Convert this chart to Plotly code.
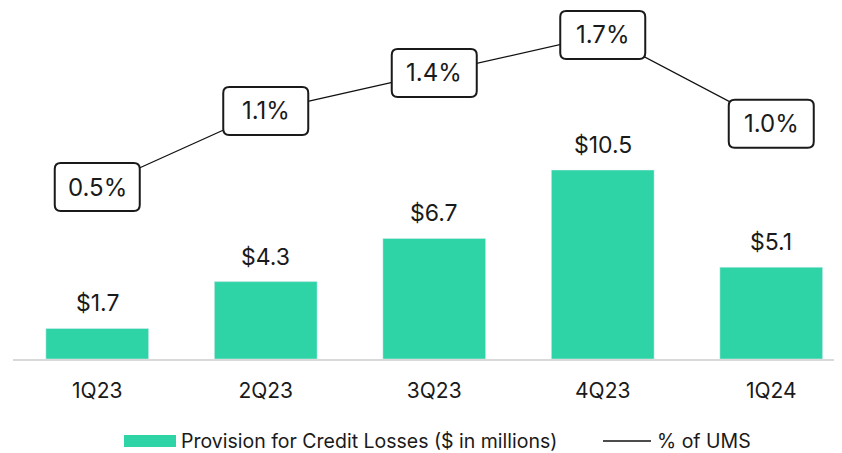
import plotly.graph_objects as go

categories = ["1Q23", "2Q23", "3Q23", "4Q23", "1Q24"]
provision = [1.7, 4.3, 6.7, 10.5, 5.1]
ums_pct = [0.5, 1.1, 1.4, 1.7, 1.0]
bar_labels = ["$1.7", "$4.3", "$6.7", "$10.5", "$5.1"]
pct_labels = ["0.5%", "1.1%", "1.4%", "1.7%", "1.0%"]

OFF = 8  # page body margin
W, H = 842 - OFF, 453 - OFF
ML, MR, MT, MB = 13 - OFF, 0, 0, 94
PW, PH = W - ML - MR, H - MT - MB

GREEN = "#2ED4A6"
FONT = "Inter"
TXT = "#1a1a1a"
xs = list(range(len(categories)))

def px_x(px):
    return (px - OFF - ML) / PW

def px_y(py):
    return (H - MB - (py - OFF)) / PH

bar_ppu = 18.0
pct_ppu = 126.7
y0_px = 187 - OFF  # pixel of 0.5% within plot (top=0)

fig = go.Figure()
fig.add_trace(go.Bar(x=xs, y=provision, marker_color=GREEN, width=0.61,
                     name="Provision for Credit Losses ($ in millions)", showlegend=False))
fig.add_trace(go.Scatter(x=xs, y=ums_pct, yaxis="y2", mode="lines",
                         line=dict(color="#111111", width=1.3), name="% of UMS", showlegend=False))

shapes = []
annotations = []
hw, hh, r = 42.5, 24, 6
path = (f"M {-hw+r},{-hh} L {hw-r},{-hh} Q {hw},{-hh} {hw},{-hh+r} L {hw},{hh-r} "
        f"Q {hw},{hh} {hw-r},{hh} L {-hw+r},{hh} Q {-hw},{hh} {-hw},{hh-r} "
        f"L {-hw},{-hh+r} Q {-hw},{-hh} {-hw+r},{-hh} Z")
for x, v, t in zip(xs, ums_pct, pct_labels):
    shapes.append(dict(type="path", xref="x", yref="y2", xsizemode="pixel", ysizemode="pixel",
                       xanchor=x, yanchor=v, path=path, fillcolor="white",
                       line=dict(color=TXT, width=2), layer="above"))
    annotations.append(dict(x=x, y=v, xref="x", yref="y2", text=t, showarrow=False,
                            font=dict(family=FONT, size=24, color=TXT),
                            xanchor="center", yanchor="middle"))

for x, v, t in zip(xs, provision, bar_labels):
    annotations.append(dict(x=x, y=v, xref="x", yref="y", text=t, showarrow=False,
                            font=dict(family=FONT, size=23, color=TXT),
                            xanchor="center", yanchor="bottom", yshift=9))

# custom legend
LEG_Y = 441
shapes.append(dict(type="rect", xref="paper", yref="paper",
                   x0=px_x(124), x1=px_x(176), y0=px_y(LEG_Y + 6), y1=px_y(LEG_Y - 6),
                   fillcolor=GREEN, line=dict(width=0)))
annotations.append(dict(x=px_x(180), y=px_y(LEG_Y), xref="paper", yref="paper",
                        text="Provision for Credit Losses ($ in millions)", showarrow=False,
                        xanchor="left", yanchor="middle", borderpad=0,
                        font=dict(family=FONT, size=19.5, color=TXT)))
shapes.append(dict(type="line", xref="paper", yref="paper",
                   x0=px_x(603), x1=px_x(651), y0=px_y(LEG_Y), y1=px_y(LEG_Y),
                   line=dict(color="#111111", width=1.3)))
annotations.append(dict(x=px_x(656), y=px_y(LEG_Y), xref="paper", yref="paper",
                        text="% of UMS", showarrow=False, xanchor="left", yanchor="middle",
                        borderpad=0, font=dict(family=FONT, size=19.5, color=TXT)))

fig.update_layout(
    width=W, height=H,
    margin=dict(l=ML, r=MR, t=MT, b=MB, pad=0),
    paper_bgcolor="white", plot_bgcolor="white",
    showlegend=False,
    xaxis=dict(range=[-0.5, -0.5 + PW / 168.5],
               tickvals=xs, ticktext=categories,
               showgrid=False, zeroline=False, showline=True, linecolor="#d9d9d9", linewidth=2,
               ticks="", ticklabelstandoff=12,
               tickfont=dict(family=FONT, size=21, color=TXT)),
    yaxis=dict(range=[0, PH / bar_ppu], visible=False, showgrid=False, zeroline=False),
    yaxis2=dict(range=[0.5 - (PH - y0_px) / pct_ppu, 0.5 + y0_px / pct_ppu], overlaying="y",
                visible=False, showgrid=False, zeroline=False),
    shapes=shapes, annotations=annotations,
)

fig.write_html("out.html")
